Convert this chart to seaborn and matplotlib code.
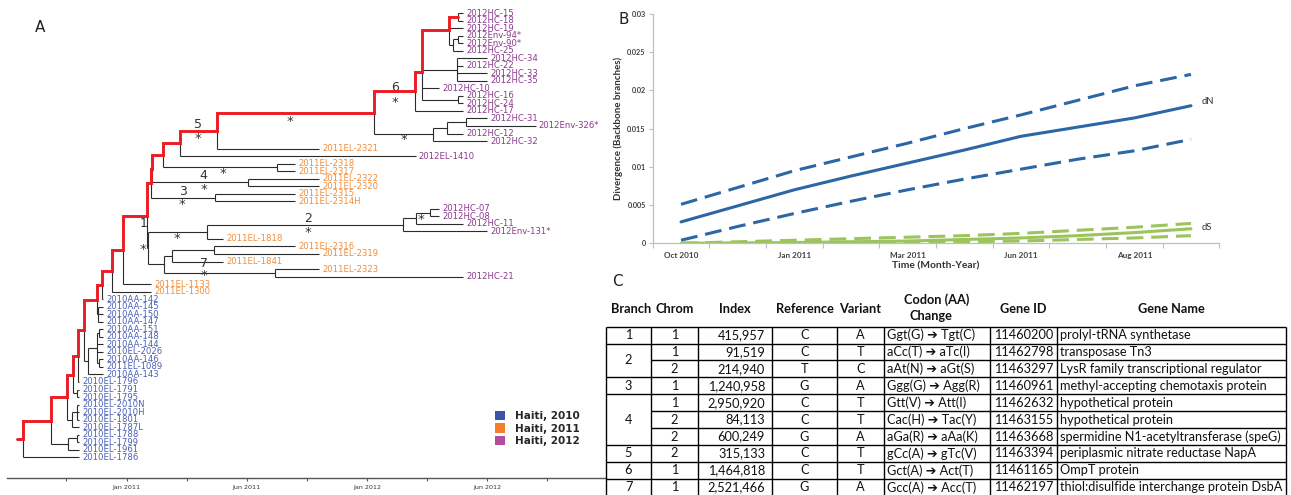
import numpy as np
import pandas as pd
import matplotlib
matplotlib.use("Agg")
import matplotlib.pyplot as plt
from matplotlib.patches import Patch
import seaborn as sns

sns.set_theme(style="white")
plt.rcParams["font.family"] = ["DejaVu Sans"]

# ======================= DATA: panel A (time-scaled tree) =======================
LEAF_NAMES = [
    "2012HC-15", "2012HC-18", "2012HC-19", "2012Env-94*", "2012Env-90*", "2012HC-25",
    "2012HC-34", "2012HC-22", "2012HC-33", "2012HC-35", "2012HC-10", "2012HC-16",
    "2012HC-24", "2012HC-17", "2012HC-31", "2012Env-326*", "2012HC-12", "2012HC-32",
    "2011EL-2321", "2012EL-1410", "2011EL-2318", "2011EL-2317", "2011EL-2322",
    "2011EL-2320", "2011EL-2315", "2011EL-2314H", "2012HC-07", "2012HC-08", "2012HC-11",
    "2012Env-131*", "2011EL-1818", "2011EL-2316", "2011EL-2319", "2011EL-1841",
    "2011EL-2323", "2012HC-21", "2011EL-1133", "2011EL-1300",
    "2010AA-142", "2010AA-145", "2010AA-150", "2010AA-147", "2010AA-151", "2010AA-148",
    "2010AA-144", "2010EL-2026", "2010AA-146", "2011EL-1089", "2010AA-143",
    "2010EL-1796", "2010EL-1791", "2010EL-1795", "2010EL-2010N", "2010EL-2010H",
    "2010EL-1801", "2010EL-1787L", "2010EL-1788", "2010EL-1799", "2010EL-1961", "2010EL-1786",
]
# tip dates, months after Jan 2011
LEAF_TIMES = [
    16.80, 16.80, 16.80, 16.80, 16.80, 16.80,
    18.02, 16.80, 18.02, 18.02, 15.61, 16.80,
    16.80, 16.80, 18.02, 20.42, 16.80, 18.02,
    9.59, 14.43, 8.40, 8.40, 9.62,
    9.62, 8.40, 8.40, 15.61, 15.61, 16.80,
    18.02, 4.83, 8.40, 9.60, 4.83,
    9.62, 16.80, 1.21, 1.21,
    -1.16, -1.16, -1.16, -1.16, -1.16, -1.16,
    -1.16, -1.16, -1.16, -1.16, -1.16,
    -2.36, -2.36, -2.36, -2.36, -2.36,
    -2.36, -2.36, -2.36, -2.36, -2.36, -2.36,
]
LEAF_GROUPS = [2012] * 18 + [2011, 2012] + [2011] * 6 + [2012] * 4 + [2011] * 5 + [2012] + [2011] * 2 + [2010] * 22

# internal nodes: (id, date, children top-to-bottom); children listed before parents
NODES = [
    ("n15_18", 16.57, ["2012HC-15", "2012HC-18"]),
    ("n94_90", 16.57, ["2012Env-94*", "2012Env-90*"]),
    ("n94_25", 16.29, ["n94_90", "2012HC-25"]),
    ("R19", 16.12, ["n15_18", "2012HC-19", "n94_25"]),
    ("n34", 16.49, ["2012HC-34", "2012HC-22", "2012HC-33", "2012HC-35"]),
    ("n16_24", 16.57, ["2012HC-16", "2012HC-24"]),
    ("R18", 14.74, ["R19", "n34", "2012HC-10", "n16_24"]),
    ("R17", 14.40, ["R18", "2012HC-17"]),
    ("n31_326", 16.95, ["2012HC-31", "2012Env-326*"]),
    ("n31_12", 15.99, ["n31_326", "2012HC-12"]),
    ("n31", 15.32, ["n31_12", "2012HC-32"]),
    ("R16", 12.37, ["R17", "n31"]),
    ("R15", 4.50, ["R16", "2011EL-2321"]),
    ("R14", 2.67, ["R15", "2012EL-1410"]),
    ("n2318", 7.50, ["2011EL-2318", "2011EL-2317"]),
    ("R13", 1.84, ["R14", "n2318"]),
    ("n4", 6.05, ["2011EL-2322", "2011EL-2320"]),
    ("R12", 1.29, ["R13", "n4"]),
    ("n3", 4.42, ["2011EL-2315", "2011EL-2314H"]),
    ("R11", 1.21, ["R12", "n3"]),
    ("n07_08", 15.15, ["2012HC-07", "2012HC-08"]),
    ("n07_11", 14.46, ["n07_08", "2012HC-11"]),
    ("n2", 13.79, ["n07_11", "2012Env-131*"]),
    ("n2p", 4.00, ["n2", "2011EL-1818"]),
    ("n2316", 4.38, ["2011EL-2316", "2011EL-2319"]),
    ("n1841", 2.26, ["n2316", "2011EL-1841"]),
    ("n7", 7.41, ["2011EL-2323", "2012HC-21"]),
    ("n1b", 1.89, ["n1841", "n7"]),
    ("n1", 1.06, ["n2p", "n1b"]),
    ("R10", 1.01, ["R11", "n1"]),
    ("R9", -0.19, ["R10", "2011EL-1133"]),
    ("R8", -0.71, ["R9", "2011EL-1300"]),
    ("R7", -1.22, ["R8", "2010AA-142"]),
    ("n145", -1.45, ["2010AA-145", "2010AA-150", "2010AA-147"]),
    ("R6", -1.47, ["R7", "n145"]),
    ("n151", -1.36, ["2010AA-151", "2010AA-148"]),
    ("n146", -1.36, ["2010AA-146", "2011EL-1089"]),
    ("nX", -1.49, ["n151", "2010AA-144", "2010EL-2026", "n146"]),
    ("nY", -1.91, ["nX", "2010AA-143"]),
    ("R5", -2.12, ["R6", "nY"]),
    ("R4", -2.42, ["R5", "2010EL-1796"]),
    ("n1791", -2.47, ["2010EL-1791", "2010EL-1795"]),
    ("R3", -2.67, ["R4", "n1791"]),
    ("n2010", -2.47, ["2010EL-2010N", "2010EL-2010H", "2010EL-1801"]),
    ("n53", -2.72, ["n2010", "2010EL-1787L"]),
    ("R2", -2.97, ["R3", "n53"]),
    ("n1788", -2.47, ["2010EL-1788", "2010EL-1799"]),
    ("n1961", -2.92, ["n1788", "2010EL-1961"]),
    ("R1", -3.77, ["R2", "n1961"]),
    ("R0", -5.17, ["R1", "2010EL-1786"]),
]
ROOT_STUB_TIME = -5.47
BACKBONE = ["R0", "R1", "R2", "R3", "R4", "R5", "R6", "R7", "R8", "R9", "R10", "R11",
            "R12", "R13", "R14", "R15", "R16", "R17", "R18", "R19", "n15_18"]

BRANCH_NUMS = ["1", "2", "3", "4", "5", "6", "7"]
BRANCH_NUM_X = [0.84, 9.08, 2.81, 3.83, 3.55, 13.40, 3.88]
BRANCH_NUM_Y = [28.0, 27.26, 23.64, 21.61, 14.87, 9.87, 33.3]
STAR_X = [0.81, 2.51, 9.08, 14.69, 2.77, 3.87, 4.83, 3.55, 8.16, 13.42, 13.85, 3.88]
STAR_Y = [31.04, 29.48, 28.69, 27.05, 24.97, 22.97, 20.85, 16.2, 13.98, 11.42, 16.33, 34.45]

TIME_MAJOR = [0, 6, 12, 18]
TIME_LABELS = ["Jan 2011", "Jun 2011", "Jan 2012", "Jun 2012"]
TIME_MINOR = [-3, 3, 9, 15, 21]
LEGEND_YEARS = [2010, 2011, 2012]
LEGEND_LABELS = ["Haiti, 2010", "Haiti, 2011", "Haiti, 2012"]

# ======================= DATA: panel B =======================
CAT_IDX = list(range(10))
CAT_LABELS = ["Oct 2010", "", "Jan 2011", "", "Mar 2011", "", "Jun 2011", "", "Aug 2011", ""]
DN = [0.0028, 0.0049, 0.0070, 0.0088, 0.0105, 0.0122, 0.0140, 0.0152, 0.0164, 0.0180]
DN_HI = [0.0051, 0.0073, 0.0095, 0.0113, 0.0131, 0.0150, 0.0168, 0.0187, 0.0206, 0.0221]
DN_LO = [0.0004, 0.0022, 0.0039, 0.0055, 0.0070, 0.0084, 0.0097, 0.0110, 0.0121, 0.0136]
DS = [0.0000, 0.00005, 0.0001, 0.0002, 0.0003, 0.0005, 0.0007, 0.0010, 0.0014, 0.0019]
DS_HI = [0.0000, 0.0002, 0.0004, 0.0006, 0.0008, 0.0010, 0.0013, 0.0017, 0.0021, 0.0026]
DS_LO = [0.0, 0.0, 0.0, 0.0, 0.0001, 0.0002, 0.0003, 0.0005, 0.0007, 0.0010]
Y_TICKS_B = [0, 0.005, 0.01, 0.015, 0.02, 0.025, 0.03]

# ======================= DATA: panel C (table) =======================
TBL_HEADERS = ["Branch", "Chrom", "Index", "Reference", "Variant", "Codon (AA)\nChange", "Gene ID", "Gene Name"]
BRANCH_GROUPS = [("1", 1), ("2", 2), ("3", 1), ("4", 3), ("5", 1), ("6", 1), ("7", 1)]
CHROM = ["1", "1", "2", "1", "1", "2", "2", "2", "1", "1"]
INDEX = ["415,957", "91,519", "214,940", "1,240,958", "2,950,920", "84,113", "600,249",
         "315,133", "1,464,818", "2,521,466"]
REFERENCE = ["C", "C", "T", "G", "C", "C", "G", "C", "C", "G"]
VARIANT = ["A", "T", "C", "A", "T", "T", "A", "T", "T", "A"]
CODON = ["Ggt(G) \u2794 Tgt(C)", "aCc(T) \u2794 aTc(I)", "aAt(N) \u2794 aGt(S)",
         "Ggg(G) \u2794 Agg(R)", "Gtt(V) \u2794 Att(I)", "Cac(H) \u2794 Tac(Y)",
         "aGa(R) \u2794 aAa(K)", "gCc(A) \u2794 gTc(V)", "Gct(A) \u2794 Act(T)",
         "Gcc(A) \u2794 Acc(T)"]
GENE_ID = ["11460200", "11462798", "11463297", "11460961", "11462632", "11463155",
           "11463668", "11463394", "11461165", "11462197"]
GENE_NAME = ["prolyl-tRNA synthetase", "transposase Tn3", "LysR family transcriptional regulator",
             "methyl-accepting chemotaxis protein", "hypothetical protein", "hypothetical protein",
             "spermidine N1-acetyltransferase (speG)", "periplasmic nitrate reductase NapA",
             "OmpT protein", "thiol:disulfide interchange protein DsbA"]

# ======================= styling =======================
W, H = 1291, 495
GROUP_TEXT = {2010: "#4b5fb4", 2011: "#f28c38", 2012: "#8a3a8c"}
GROUP_BOX = {2010: "#3b56a8", 2011: "#f47f2a", 2012: "#b24c9f"}
TREE_COL = "#2b2b2b"
RED = "#ec1c24"
BLUE = "#2b66a5"
GREEN = "#9cc45c"
TABLE_FONT = ["Lato", "DejaVu Sans"]

fig = plt.figure(figsize=(W / 100, H / 100), dpi=100)


def rect(x0, y0, x1, y1):
    return [x0 / W, 1 - y1 / H, (x1 - x0) / W, (y1 - y0) / H]


# ----------------------- panel A -----------------------
axA = fig.add_axes(rect(7, 0, 605, 477.7))
leaf_time = dict(zip(LEAF_NAMES, LEAF_TIMES))
pos_y = {n: i for i, n in enumerate(LEAF_NAMES)}
pos_t = dict(leaf_time)
for nid, t, kids in NODES:
    pos_y[nid] = float(np.mean([pos_y[k] for k in kids]))
    pos_t[nid] = t

for nid, t, kids in NODES:
    ys = [pos_y[k] for k in kids]
    axA.plot([t, t], [min(ys), max(ys)], color=TREE_COL, lw=0.8, solid_capstyle="butt")
    for k in kids:
        axA.plot([t, pos_t[k]], [pos_y[k], pos_y[k]], color=TREE_COL, lw=0.8,
                 solid_capstyle="butt")

rx = [ROOT_STUB_TIME, pos_t[BACKBONE[0]]]
ry = [pos_y[BACKBONE[0]], pos_y[BACKBONE[0]]]
for a, b in zip(BACKBONE[:-1], BACKBONE[1:]):
    rx += [pos_t[a], pos_t[b]]
    ry += [pos_y[b], pos_y[b]]
axA.plot(rx, ry, color=RED, lw=2.1, solid_joinstyle="miter", zorder=5)

for name, g in zip(LEAF_NAMES, LEAF_GROUPS):
    axA.annotate(name, (pos_t[name], pos_y[name]), xytext=(2.4, 0), textcoords="offset points",
                 va="center", ha="left", fontsize=6.1, color=GROUP_TEXT[g])

for s, x, y in zip(BRANCH_NUMS, BRANCH_NUM_X, BRANCH_NUM_Y):
    axA.text(x, y, s, fontsize=9, ha="center", va="center", color="#333333")
for x, y in zip(STAR_X, STAR_Y):
    axA.text(x, y + 0.4, "*", fontsize=9.5, ha="center", va="center", color="#333333")

axA.set_xlim(-5.97, 23.89)
axA.set_ylim(61.71, -1.73)
for sp in ["left", "top", "right"]:
    axA.spines[sp].set_visible(False)
axA.spines["bottom"].set_color("#555555")
axA.spines["bottom"].set_linewidth(1.0)
axA.set_yticks([])
axA.set_xticks(TIME_MAJOR)
axA.set_xticklabels(TIME_LABELS)
axA.set_xticks(TIME_MINOR, minor=True)
axA.tick_params(axis="x", which="both", direction="out", length=2.5, width=0.8,
                color="#555555", labelsize=4.6, labelcolor="#333333", pad=3, bottom=True)
axA.grid(False)

handles = [Patch(facecolor=GROUP_BOX[y], edgecolor="none") for y in LEGEND_YEARS]
axA.legend(handles=handles, labels=LEGEND_LABELS, loc="upper left",
           bbox_to_anchor=(495 / W, 1 - 411 / H), bbox_transform=fig.transFigure,
           frameon=False, borderpad=0, borderaxespad=0, handlelength=1.0, handleheight=1.0,
           handletextpad=0.95, labelspacing=0.2,
           prop={"weight": "bold", "size": 7.5})

fig.text(40 / W, 1 - 28 / H, "A", fontsize=11, ha="center", va="center", color="#222222")

# ----------------------- panel B -----------------------
axB = fig.add_axes(rect(652.7, 14, 1219.3, 243.3))
series = ["dN", "dN hi", "dN lo", "dS", "dS hi", "dS lo"]
values = [DN, DN_HI, DN_LO, DS, DS_HI, DS_LO]
dfB = pd.DataFrame({
    "cat": np.tile(CAT_IDX, len(series)),
    "value": np.concatenate(values),
    "series": np.repeat(series, len(CAT_IDX)),
})
palette = {"dN": BLUE, "dN hi": BLUE, "dN lo": BLUE, "dS": GREEN, "dS hi": GREEN, "dS lo": GREEN}
dash = (5.5, 2.6)
dashes = {"dN": "", "dN hi": dash, "dN lo": dash, "dS": "", "dS hi": dash, "dS lo": dash}
sns.lineplot(data=dfB, x="cat", y="value", hue="series", style="series", palette=palette,
             dashes=dashes, lw=2.2, legend=False, ax=axB)
axB.annotate("dN", (CAT_IDX[-1], DN[-1]), xytext=(8, 3), textcoords="offset points",
             fontsize=6.8, color="#333333", va="center", family=TABLE_FONT)
axB.annotate("dS", (CAT_IDX[-1], DS[-1]), xytext=(8, 1), textcoords="offset points",
             fontsize=6.8, color="#333333", va="center", family=TABLE_FONT)

axB.set_xlim(-0.5, 9.5)
axB.set_ylim(0, 0.03)
axB.set_xticks(np.arange(-0.5, 10, 1.0))
axB.set_xticklabels([])
axB.set_xticks(CAT_IDX, minor=True)
axB.set_xticklabels(CAT_LABELS, minor=True, fontsize=5.9, fontweight="bold", family=TABLE_FONT,
                    color="#404040")
axB.tick_params(axis="x", which="major", length=3.5, width=0.8, color="#bfbfbf", bottom=True)
axB.tick_params(axis="x", which="minor", length=0, pad=6)
axB.set_yticks(Y_TICKS_B)
axB.set_yticklabels([f"{v:g}" for v in Y_TICKS_B], fontsize=5.2, fontweight="bold",
                    family=TABLE_FONT, color="#404040")
axB.tick_params(axis="y", length=3, width=0.8, color="#bfbfbf", left=True, pad=2)
for sp in ["top", "right"]:
    axB.spines[sp].set_visible(False)
for sp in ["left", "bottom"]:
    axB.spines[sp].set_color("#bfbfbf")
    axB.spines[sp].set_linewidth(0.9)
axB.set_xlabel("Time (Month-Year)", fontsize=7.4, fontweight="bold", family=TABLE_FONT,
               color="#333333", labelpad=2)
axB.set_ylabel("Divergence (Backbone branches)", fontsize=7.0, fontweight="bold",
               family=TABLE_FONT, color="#333333", labelpad=3)
axB.grid(False)
fig.text(624 / W, 1 - 19 / H, "B", fontsize=11, ha="center", va="center", color="#222222")

# ----------------------- panel C -----------------------
COL_EDGES = [606, 651, 698, 772, 837, 884, 990, 1057, 1286]
axT = fig.add_axes(rect(600, 290, 1291, 495.7))
axT.set_xlim(600, 1291)
axT.set_ylim(10, -2.17)
axT.axis("off")
n_rows = len(CHROM)
lw_t = 1.0
for x in COL_EDGES:
    axT.plot([x, x], [0, n_rows], color="black", lw=lw_t, solid_capstyle="butt")
group_starts = np.cumsum([0] + [n for _, n in BRANCH_GROUPS])
for r in range(n_rows + 1):
    x0 = COL_EDGES[0] if r in group_starts else COL_EDGES[1]
    axT.plot([x0, COL_EDGES[-1]], [r, r], color="black", lw=lw_t, solid_capstyle="butt")

centers = [(a + b) / 2 for a, b in zip(COL_EDGES[:-1], COL_EDGES[1:])]
for i, h in enumerate(TBL_HEADERS):
    if "\n" in h:
        top, bot = h.split("\n")
        axT.text(centers[i], -1.6, top, ha="center", va="center", fontsize=9.2,
                 fontweight="bold", family=TABLE_FONT, color="#111111")
        axT.text(centers[i] - 6, -0.63, bot, ha="center", va="center", fontsize=9.2,
                 fontweight="bold", family=TABLE_FONT, color="#111111")
    else:
        axT.text(centers[i] + (3 if i == 0 else 0), -1.05, h, ha="center", va="center",
                 fontsize=9.2, fontweight="bold", family=TABLE_FONT, color="#111111")

tk = dict(va="center", fontsize=9.2, family=TABLE_FONT, color="#111111")
for (lab, n), s in zip(BRANCH_GROUPS, group_starts[:-1]):
    axT.text(centers[0], s + n / 2, lab, ha="center", **tk)
for r in range(n_rows):
    y = r + 0.5
    axT.text(centers[1], y, CHROM[r], ha="center", **tk)
    axT.text(COL_EDGES[3] - 7, y, INDEX[r], ha="right", **tk)
    axT.text(centers[3], y, REFERENCE[r], ha="center", **tk)
    axT.text(centers[4], y, VARIANT[r], ha="center", **tk)
    axT.text(COL_EDGES[5] + 3, y, CODON[r], ha="left", **tk)
    axT.text(centers[6], y, GENE_ID[r], ha="center", **tk)
    axT.text(COL_EDGES[7] + 3, y, GENE_NAME[r], ha="left", **tk)

fig.text(617 / W, 1 - 281 / H, "C", fontsize=11, ha="center", va="center", color="#222222")

fig.savefig("out.png", dpi=100)
